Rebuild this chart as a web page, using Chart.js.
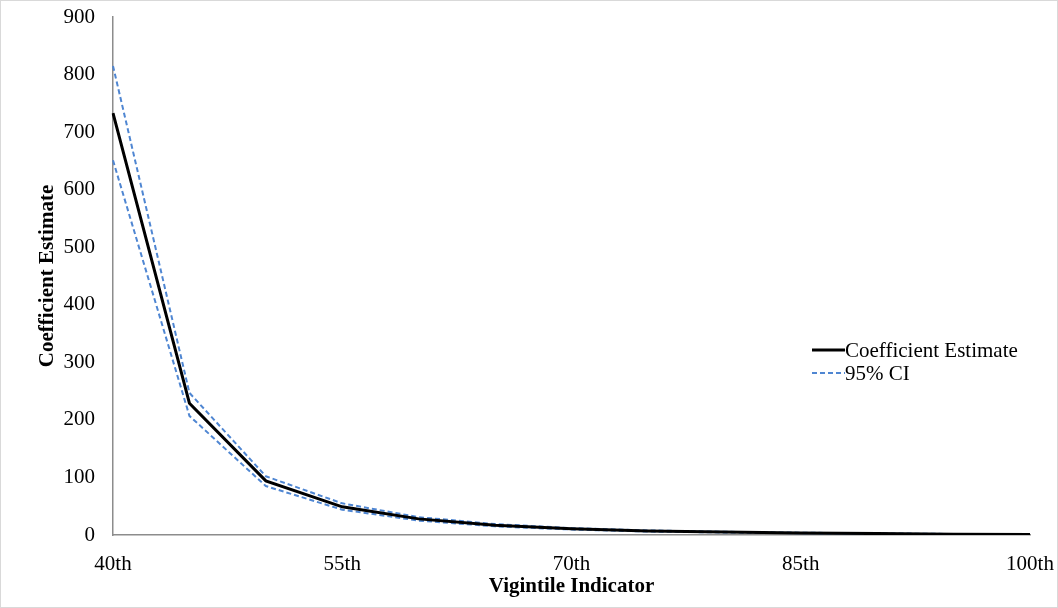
<!DOCTYPE html>
<html>
<head>
<meta charset="utf-8">
<script src="https://cdn.jsdelivr.net/npm/chart.js@4/dist/chart.umd.min.js"></script>
<style>
    html, body { margin: 0; padding: 0; background: #fff; }
    #wrap {
        width: 1058px; height: 608px; box-sizing: border-box;
        border: 1px solid #d9d9d9; position: relative;
    }
</style>
</head>
<body>
<div id="wrap"><canvas id="chart"></canvas></div>
<script>
// vigintiles 40th..100th
const categories = ['40th', '45th', '50th', '55th', '60th', '65th', '70th', '75th', '80th', '85th', '90th', '95th', '100th'];
const shownLabels = ['40th', '55th', '70th', '85th', '100th'];

const estimate = [733, 229, 94, 49, 28, 17, 11, 7, 5, 3.5, 2.5, 1.5, 1];
const upperCI  = [815, 247, 102, 55, 31, 19, 12, 8, 5.6, 4, 2.9, 1.8, 1.2];
const lowerCI  = [651, 207, 85, 44, 25, 15, 9.5, 6, 4.4, 3, 2.1, 1.2, 0.8];

const yTicks = [0, 100, 200, 300, 400, 500, 600, 700, 800, 900];

const serif = "'Liberation Serif', 'Times New Roman', serif";
const ciBlue = '#4f86d2';
const fontSize = 21;

// legend drawn inside the plot area, like the original
const innerLegend = {
    id: 'innerLegend',
    afterDraw(chart) {
        const ctx = chart.ctx;
        const items = chart.data.datasets.filter(d => !d.hideInLegend);
        const x = 811;
        let y = 349;
        ctx.save();
        ctx.font = fontSize + 'px ' + serif;
        ctx.fillStyle = '#000';
        ctx.textBaseline = 'middle';
        items.forEach(d => {
            ctx.beginPath();
            ctx.strokeStyle = d.borderColor;
            ctx.lineWidth = d.borderWidth;
            ctx.setLineDash(d.borderDash || []);
            ctx.moveTo(x, y);
            ctx.lineTo(x + 33, y);
            ctx.stroke();
            ctx.setLineDash([]);
            ctx.fillText(d.label, x + 33, y + 1);
            y += 23;
        });
        ctx.restore();
    }
};

new Chart(document.getElementById('chart'), {
    type: 'line',
    data: {
        labels: categories,
        datasets: [
            {
                label: 'Coefficient Estimate',
                data: estimate,
                borderColor: '#000',
                borderWidth: 3,
                pointRadius: 0,
                tension: 0,
                order: 0
            },
            {
                label: '95% CI',
                data: upperCI,
                borderColor: ciBlue,
                borderWidth: 2,
                borderDash: [5, 3],
                pointRadius: 0,
                tension: 0,
                order: 1
            },
            {
                label: '95% CI lower',
                hideInLegend: true,
                data: lowerCI,
                borderColor: ciBlue,
                borderWidth: 2,
                borderDash: [5, 3],
                pointRadius: 0,
                tension: 0,
                order: 1
            }
        ]
    },
    options: {
        responsive: true,
        maintainAspectRatio: false,
        animation: false,
        layout: { padding: { top: 16, right: 27, left: 0, bottom: 0 } },
        plugins: {
            legend: { display: false },
            tooltip: { enabled: false }
        },
        scales: {
            x: {
                offset: false,
                afterFit: axis => {
                    axis.height = 72;
                    axis.paddingLeft = 0;
                    axis.paddingRight = 0;
                },
                grid: { display: false, drawTicks: false },
                border: { display: true, color: '#8c8c8c', width: 1.5 },
                ticks: {
                    autoSkip: false,
                    maxRotation: 0,
                    padding: 17,
                    color: '#000',
                    font: { family: serif, size: fontSize },
                    callback: function (value) {
                        const lab = this.getLabelForValue(value);
                        return shownLabels.includes(lab) ? lab : '';
                    }
                },
                title: {
                    display: true,
                    text: 'Vigintile Indicator',
                    color: '#000',
                    padding: { top: 0, bottom: 8 },
                    font: { family: serif, size: fontSize, weight: 'bold' }
                }
            },
            y: {
                min: 0,
                max: 900,
                afterFit: axis => {
                    axis.width = 112;
                    axis.paddingTop = 0;
                    axis.paddingBottom = 0;
                },
                afterBuildTicks: axis => { axis.ticks = yTicks.map(v => ({ value: v })); },
                grid: { display: false, drawTicks: false },
                border: { display: true, color: '#8c8c8c', width: 1.5 },
                ticks: {
                    padding: 18,
                    color: '#000',
                    font: { family: serif, size: fontSize }
                },
                title: {
                    display: true,
                    text: 'Coefficient Estimate',
                    color: '#000',
                    padding: { top: 34, bottom: 0 },
                    font: { family: serif, size: fontSize, weight: 'bold' }
                }
            }
        }
    },
    plugins: [innerLegend]
});
</script>
</body>
</html>
